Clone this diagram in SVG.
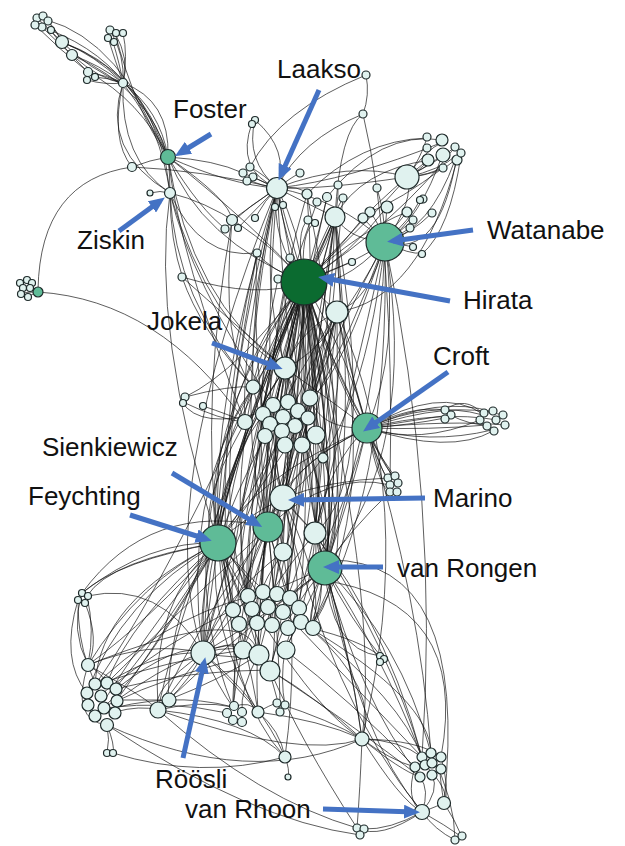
<svg xmlns="http://www.w3.org/2000/svg" width="625" height="846" viewBox="0 0 625 846">
<style>
.e path{fill:none;stroke:#111;stroke-width:0.85;stroke-opacity:0.8}
circle{fill:#e0f2ef;stroke:#1e2a2a;stroke-width:1.2}
.g circle{fill:#5fbb97}
.h circle{fill:#0b6b30}
.a{fill:none;stroke:#4472c4;stroke-width:5;marker-end:url(#ah)}
text{font-family:"Liberation Sans",Arial,sans-serif;font-size:26px;fill:#111}
</style>
<defs>
<marker id="ah" viewBox="0 0 16 14" markerWidth="16" markerHeight="14" refX="10" refY="7" orient="auto" markerUnits="userSpaceOnUse"><path d="M0,0 L16,7 L0,14 z" fill="#4472c4"/></marker>
</defs>
<rect width="625" height="846" fill="#fff"/>
<g id="connectors" class="e">
<path d="M37,18 Q50,30 62,42"/><path d="M43,17 Q55,28 62,42"/><path d="M47,20 Q58,32 62,42"/><path d="M42,27 Q55,40 72,55"/><path d="M35,25 Q60,50 88,72"/><path d="M50,30 Q70,55 88,72"/>
<path d="M62,42 Q95,55 123,83"/><path d="M62,42 Q90,70 123,83"/><path d="M72,55 Q100,65 123,83"/><path d="M72,55 Q100,80 123,83"/><path d="M88,72 Q105,75 123,83"/><path d="M95,77 Q110,78 123,83"/><path d="M87,80 Q105,85 123,83"/>
<path d="M110,30 Q125,55 123,83"/><path d="M115,33 Q130,60 123,83"/><path d="M123,33 Q128,55 123,83"/><path d="M113,42 Q120,65 123,83"/><path d="M108,38 Q115,60 123,83"/>
<path d="M62,42 Q140,70 168,157"/><path d="M72,55 Q150,90 168,157"/><path d="M88,72 Q140,100 168,157"/><path d="M123,83 Q160,110 168,157"/><path d="M123,83 Q150,120 168,157"/><path d="M123,83 Q170,100 168,157"/><path d="M123,83 Q110,140 132,167"/><path d="M123,83 Q100,150 170,193"/><path d="M123,83 Q120,160 170,193"/><path d="M47,20 Q120,40 168,157"/><path d="M115,33 Q135,110 168,157"/><path d="M35,25 Q150,60 170,193"/><path d="M62,42 Q160,80 170,193"/>
<path d="M132,167 Q150,160 168,157"/><path d="M150,193 Q160,190 170,193"/><path d="M168,157 Q170,175 170,193"/><path d="M168,157 Q215,160 243,173"/><path d="M168,157 Q230,185 277,188"/><path d="M168,157 Q230,200 232,220"/><path d="M168,157 Q200,210 227,230"/><path d="M168,157 Q260,230 304,282"/><path d="M170,193 Q240,210 304,282"/><path d="M170,193 Q200,260 257,253"/><path d="M170,193 Q170,240 183,279"/><path d="M170,193 Q175,300 253,387"/><path d="M168,157 Q190,300 285,368"/><path d="M170,193 Q210,330 285,368"/><path d="M168,157 Q180,260 245,422"/><path d="M170,193 Q150,330 218,543"/><path d="M170,193 Q190,280 273,405"/><path d="M168,157 Q200,240 304,282"/>
<path d="M132,167 Q40,180 38,290"/><path d="M38,292 Q160,300 245,422"/><path d="M132,167 Q200,170 277,188"/><path d="M38,292 Q30,286 27,281"/><path d="M38,292 Q28,292 22,293"/><path d="M38,292 Q30,295 28,297"/>
<path d="M243,173 Q260,180 277,188"/><path d="M250,167 Q265,175 277,188"/><path d="M253,177 Q265,183 277,188"/><path d="M248,180 Q262,186 277,188"/><path d="M255,120 Q245,160 277,188"/><path d="M252,123 Q235,170 277,188"/><path d="M255,120 Q290,150 277,188"/>
<path d="M277,188 Q300,185 307,194"/><path d="M277,188 Q295,175 300,173"/><path d="M277,188 Q300,200 335,217"/><path d="M277,188 Q320,190 407,177"/><path d="M277,188 Q350,160 407,177"/><path d="M277,188 Q340,200 385,242"/><path d="M232,220 Q260,200 277,188"/><path d="M225,228 Q250,205 277,188"/><path d="M238,228 Q255,210 277,188"/><path d="M255,218 Q265,200 277,188"/>
<path d="M277,188 Q285,240 304,282"/><path d="M277,188 Q270,240 304,282"/><path d="M277,188 Q300,230 304,282"/><path d="M277,188 Q260,280 285,368"/><path d="M277,188 Q250,300 253,387"/><path d="M277,188 Q240,350 245,422"/><path d="M277,188 Q300,300 310,398"/><path d="M277,188 Q210,400 218,543"/><path d="M277,188 Q320,350 367,428"/><path d="M277,188 Q260,400 283,498"/><path d="M277,188 Q150,500 203,653"/><path d="M277,188 Q230,420 268,527"/><path d="M277,188 Q290,420 325,568"/><path d="M277,188 Q200,480 248,597"/>
<path d="M407,177 Q420,160 427,138"/><path d="M407,177 Q425,150 443,142"/><path d="M407,177 Q430,165 445,153"/><path d="M407,177 Q420,170 430,160"/><path d="M407,177 Q440,160 455,147"/><path d="M407,177 Q440,170 457,155"/><path d="M407,177 Q440,175 455,160"/><path d="M407,177 Q430,175 443,167"/><path d="M407,177 Q415,200 385,242"/><path d="M407,177 Q380,210 304,282"/>
<path d="M443,153 Q420,220 385,242"/><path d="M455,160 Q430,230 385,242"/><path d="M457,155 Q440,260 385,242"/><path d="M443,142 Q350,180 277,188"/><path d="M430,160 Q360,170 335,217"/><path d="M455,147 Q400,220 304,282"/><path d="M457,160 Q420,300 337,312"/><path d="M427,138 Q360,140 307,194"/><path d="M461,155 Q450,230 422,254"/><path d="M443,168 Q400,200 370,212"/><path d="M428,160 Q390,190 363,218"/><path d="M442,140 Q380,130 327,197"/>
<path d="M363,114 Q370,95 366,75"/><path d="M363,114 Q340,130 335,217"/><path d="M363,114 Q395,250 390,485"/><path d="M363,114 Q300,140 277,188"/><path d="M366,75 Q280,110 250,167"/>
<path d="M385,242 Q360,260 304,282"/><path d="M385,242 Q340,290 304,282"/><path d="M385,242 Q350,240 335,217"/><path d="M387,207 Q385,225 385,242"/><path d="M370,212 Q380,225 385,242"/><path d="M363,218 Q375,230 385,242"/><path d="M407,212 Q395,225 385,242"/><path d="M413,220 Q400,232 385,242"/><path d="M420,200 Q410,220 385,242"/><path d="M410,228 Q400,235 385,242"/><path d="M385,242 Q405,245 413,247"/><path d="M385,242 Q410,255 422,253"/><path d="M377,188 Q385,215 385,242"/><path d="M432,213 Q410,235 385,242"/>
<path d="M385,242 Q370,300 337,312"/><path d="M385,242 Q400,350 367,428"/><path d="M385,242 Q380,400 325,568"/><path d="M385,242 Q420,450 325,568"/><path d="M385,242 Q360,450 283,498"/><path d="M385,242 Q350,400 315,533"/><path d="M385,242 Q300,400 268,527"/><path d="M385,242 Q330,350 285,368"/><path d="M385,242 Q390,500 310,628"/><path d="M385,242 Q440,500 422,757"/><path d="M385,242 Q320,420 218,543"/><path d="M385,242 Q340,380 310,398"/>
<path d="M304,282 Q290,270 290,258"/><path d="M304,282 Q270,270 257,253"/><path d="M304,282 Q285,280 278,279"/><path d="M304,282 Q320,295 337,312"/><path d="M304,282 Q320,250 335,217"/><path d="M304,282 Q330,220 343,198"/><path d="M304,282 Q300,230 315,223"/><path d="M304,282 Q330,260 363,218"/><path d="M304,282 Q350,255 387,207"/><path d="M304,282 Q345,240 370,212"/><path d="M304,282 Q330,270 352,262"/><path d="M304,282 Q295,230 308,220"/><path d="M304,282 Q320,230 327,197"/><path d="M304,282 Q340,230 338,185"/><path d="M304,282 Q360,230 407,212"/>
<path d="M304,282 Q290,330 285,368"/><path d="M304,282 Q270,320 285,368"/><path d="M304,282 Q310,340 310,398"/><path d="M304,282 Q260,340 253,387"/><path d="M304,282 Q240,400 245,422"/><path d="M304,282 Q280,380 273,405"/><path d="M304,282 Q330,350 295,423"/><path d="M304,282 Q330,360 367,428"/><path d="M304,282 Q350,360 367,428"/><path d="M304,282 Q330,400 323,458"/><path d="M304,282 Q300,380 288,402"/><path d="M304,282 Q320,380 316,435"/><path d="M304,282 Q250,380 263,414"/>
<path d="M304,282 Q260,420 283,498"/><path d="M304,282 Q300,420 283,498"/><path d="M304,282 Q240,420 268,527"/><path d="M304,282 Q280,430 268,527"/><path d="M304,282 Q200,420 218,543"/><path d="M304,282 Q230,450 218,543"/><path d="M304,282 Q350,450 315,533"/><path d="M304,282 Q320,430 315,533"/><path d="M304,282 Q360,430 325,568"/><path d="M304,282 Q340,480 325,568"/><path d="M304,282 Q260,450 283,552"/><path d="M304,282 Q215,380 218,543"/><path d="M304,282 Q250,500 268,527"/><path d="M304,282 Q300,480 325,568"/>
<path d="M304,282 Q220,500 248,597"/><path d="M304,282 Q330,500 287,598"/><path d="M304,282 Q200,520 232,610"/><path d="M304,282 Q350,520 310,628"/><path d="M304,282 Q280,500 270,625"/><path d="M304,282 Q190,550 203,653"/><path d="M304,282 Q220,560 243,650"/><path d="M304,282 Q340,550 285,650"/><path d="M304,282 Q290,560 258,655"/><path d="M304,282 Q370,560 310,628"/><path d="M304,282 Q180,600 158,710"/><path d="M304,282 Q170,580 95,685"/><path d="M304,282 Q250,600 258,712"/><path d="M304,282 Q380,600 362,739"/><path d="M304,282 Q230,650 233,707"/><path d="M304,282 Q260,520 263,592"/><path d="M304,282 Q310,520 299,608"/><path d="M304,282 Q240,540 252,609"/><path d="M304,282 Q300,560 270,671"/>
<path d="M335,217 Q330,350 310,398"/><path d="M335,217 Q280,350 253,387"/><path d="M335,217 Q350,380 323,458"/><path d="M335,217 Q300,450 268,527"/><path d="M335,217 Q230,450 218,543"/><path d="M335,217 Q360,450 325,568"/><path d="M335,217 Q300,500 270,625"/><path d="M335,217 Q380,480 315,533"/><path d="M335,217 Q260,500 248,597"/><path d="M335,217 Q310,320 285,368"/><path d="M335,217 Q340,350 367,428"/><path d="M335,217 Q310,430 283,498"/>
<path d="M337,312 Q320,340 310,398"/><path d="M337,312 Q300,330 285,368"/><path d="M337,312 Q350,370 367,428"/><path d="M337,312 Q310,420 283,498"/><path d="M337,312 Q340,450 325,568"/><path d="M337,312 Q250,450 218,543"/><path d="M337,312 Q290,470 268,527"/><path d="M337,312 Q380,500 310,628"/><path d="M337,312 Q270,550 258,655"/><path d="M337,312 Q220,560 203,653"/><path d="M337,312 Q420,500 362,739"/><path d="M337,312 Q320,480 315,533"/><path d="M337,312 Q290,540 287,598"/>
<path d="M307,194 Q320,350 283,498"/><path d="M307,194 Q260,350 268,527"/><path d="M307,194 Q350,400 325,568"/><path d="M232,220 Q220,350 253,387"/><path d="M232,220 Q200,400 218,543"/><path d="M257,253 Q230,400 218,543"/><path d="M257,253 Q250,400 283,498"/><path d="M290,258 Q330,400 325,568"/><path d="M290,258 Q260,450 203,653"/><path d="M343,198 Q330,320 315,533"/><path d="M327,197 Q290,350 283,552"/><path d="M317,202 Q250,380 248,597"/><path d="M278,279 Q250,400 268,527"/><path d="M290,258 Q290,380 310,398"/><path d="M257,253 Q210,450 232,610"/>
<path d="M285,368 Q260,450 268,527"/><path d="M285,368 Q230,450 218,543"/><path d="M285,368 Q320,450 325,568"/><path d="M285,368 Q300,430 283,498"/><path d="M285,368 Q210,480 203,653"/><path d="M285,368 Q260,550 258,655"/><path d="M285,368 Q330,500 310,628"/><path d="M285,368 Q160,550 258,712"/><path d="M285,368 Q290,500 287,598"/><path d="M285,368 Q240,520 248,597"/>
<path d="M253,387 Q200,460 218,543"/><path d="M253,387 Q230,500 248,597"/><path d="M253,387 Q280,500 283,552"/><path d="M253,387 Q180,500 203,653"/><path d="M253,387 Q170,550 233,707"/><path d="M310,398 Q340,480 325,568"/><path d="M310,398 Q280,450 283,498"/><path d="M310,398 Q300,500 287,598"/><path d="M245,422 Q190,520 218,543"/><path d="M315,435 Q350,520 325,568"/><path d="M265,433 Q230,520 232,610"/><path d="M273,405 Q240,480 268,527"/><path d="M298,411 Q330,500 315,533"/><path d="M283,431 Q250,500 218,543"/><path d="M302,445 Q300,520 283,552"/><path d="M263,414 Q200,500 203,653"/><path d="M288,402 Q340,520 325,568"/>
<path d="M367,428 Q330,460 315,533"/><path d="M367,428 Q350,500 325,568"/><path d="M367,428 Q300,460 283,498"/><path d="M367,428 Q280,470 268,527"/><path d="M367,428 Q250,480 218,543"/><path d="M367,428 Q320,430 310,398"/><path d="M367,428 Q330,400 285,368"/><path d="M367,428 Q420,600 431,753"/><path d="M367,428 Q330,560 287,598"/>
<path d="M367,428 Q410,405 445,410"/><path d="M367,428 Q415,420 450,415"/><path d="M367,428 Q410,425 445,418"/><path d="M367,428 Q430,400 483,415"/><path d="M367,428 Q440,395 493,412"/><path d="M367,428 Q450,400 503,415"/><path d="M367,428 Q440,410 497,420"/><path d="M367,428 Q450,420 505,425"/><path d="M367,428 Q430,430 487,425"/><path d="M367,428 Q430,445 492,430"/><path d="M367,428 Q420,445 480,420"/><path d="M367,428 Q450,455 493,431"/><path d="M367,428 Q440,385 483,414"/><path d="M445,410 Q465,395 483,414"/><path d="M450,415 Q470,425 487,425"/>
<path d="M367,428 Q380,470 388,478"/><path d="M367,428 Q385,470 395,477"/><path d="M367,428 Q395,485 398,483"/><path d="M367,428 Q380,490 390,492"/><path d="M367,428 Q390,495 397,492"/><path d="M388,478 Q330,480 283,498"/><path d="M390,492 Q350,530 325,568"/><path d="M395,477 Q340,400 304,282"/><path d="M390,485 Q330,470 268,527"/>
<path d="M185,397 Q230,385 253,387"/><path d="M183,402 Q220,420 245,422"/><path d="M203,406 Q230,415 245,422"/><path d="M185,397 Q240,370 304,282"/><path d="M182,402 Q200,430 263,412"/><path d="M182,277 Q230,320 285,368"/><path d="M182,277 Q260,300 304,282"/><path d="M182,277 Q200,330 253,387"/>
<path d="M218,543 Q240,560 248,597"/><path d="M218,543 Q230,580 232,610"/><path d="M218,543 Q210,600 203,653"/><path d="M218,543 Q170,600 168,700"/><path d="M218,543 Q150,600 158,710"/><path d="M218,543 Q140,580 88,665"/><path d="M218,543 Q120,560 82,593"/><path d="M218,543 Q100,600 95,685"/><path d="M218,543 Q130,620 107,683"/><path d="M218,543 Q150,650 115,688"/><path d="M218,543 Q160,640 117,700"/><path d="M218,543 Q140,680 103,707"/><path d="M218,543 Q110,560 87,596"/><path d="M218,543 Q120,600 87,693"/><path d="M218,543 Q140,640 95,716"/>
<path d="M218,543 Q240,650 233,707"/><path d="M218,543 Q250,660 258,712"/><path d="M218,543 Q270,660 280,712"/><path d="M218,543 Q230,700 285,757"/><path d="M218,543 Q300,700 362,739"/><path d="M218,543 Q320,650 422,757"/><path d="M218,543 Q250,620 259,655"/><path d="M218,543 Q270,600 272,625"/>
<path d="M268,527 Q240,580 248,597"/><path d="M268,527 Q260,570 262,593"/><path d="M268,527 Q280,570 287,598"/><path d="M268,527 Q240,600 203,653"/><path d="M268,527 Q250,640 258,655"/><path d="M268,527 Q300,640 310,628"/><path d="M268,527 Q200,620 158,710"/><path d="M268,527 Q280,650 280,712"/><path d="M268,527 Q240,650 233,707"/><path d="M268,527 Q170,620 107,683"/><path d="M268,527 Q280,640 270,671"/>
<path d="M325,568 Q300,590 287,598"/><path d="M325,568 Q310,600 310,628"/><path d="M325,568 Q300,620 285,650"/><path d="M325,568 Q280,620 270,670"/><path d="M325,568 Q260,620 203,653"/><path d="M325,568 Q350,650 362,739"/><path d="M325,568 Q380,650 422,757"/><path d="M325,568 Q400,640 431,753"/><path d="M325,568 Q360,700 420,777"/><path d="M325,568 Q360,740 422,812"/><path d="M325,568 Q330,650 380,656"/><path d="M325,568 Q350,620 383,659"/><path d="M320,580 Q470,600 441,757"/><path d="M330,560 Q470,560 444,803"/><path d="M325,568 Q250,600 232,610"/><path d="M325,568 Q230,640 158,710"/>
<path d="M315,533 Q330,600 310,628"/><path d="M315,533 Q300,600 285,650"/><path d="M315,533 Q350,650 362,739"/><path d="M315,533 Q390,650 422,757"/><path d="M283,552 Q270,600 270,625"/><path d="M283,552 Q250,600 243,650"/><path d="M283,552 Q300,650 285,757"/><path d="M315,533 Q260,600 243,650"/><path d="M283,552 Q220,600 203,653"/>
<path d="M283,498 Q260,560 248,597"/><path d="M283,498 Q300,560 297,608"/><path d="M283,498 Q220,600 203,653"/><path d="M283,498 Q330,600 310,628"/><path d="M283,498 Q380,600 422,757"/><path d="M283,498 Q330,700 422,812"/><path d="M283,498 Q240,520 218,543"/><path d="M283,498 Q300,520 315,533"/>
<path d="M82,593 Q70,630 88,665"/><path d="M78,600 Q78,640 88,665"/><path d="M87,596 Q95,630 88,665"/><path d="M85,603 Q100,640 88,665"/><path d="M82,593 Q150,540 218,543"/><path d="M87,596 Q160,580 203,653"/><path d="M78,600 Q60,660 87,693"/><path d="M82,593 Q150,500 268,527"/>
<path d="M88,665 Q92,675 95,685"/><path d="M88,665 Q100,672 107,683"/><path d="M88,665 Q150,640 203,653"/><path d="M88,665 Q150,620 218,543"/><path d="M88,665 Q150,700 158,710"/><path d="M88,665 Q70,720 107,725"/><path d="M88,665 Q250,600 258,655"/>
<path d="M107,725 Q110,740 107,753"/><path d="M107,725 Q115,745 113,753"/><path d="M115,712 Q140,705 158,710"/><path d="M117,700 Q140,700 168,700"/><path d="M107,683 Q160,650 203,653"/><path d="M95,685 Q170,660 243,650"/><path d="M103,707 Q180,670 258,655"/><path d="M115,689 Q190,670 270,670"/><path d="M95,713 Q170,690 233,707"/><path d="M100,695 Q170,640 232,610"/><path d="M87,693 Q160,620 248,597"/><path d="M117,700 Q200,640 243,650"/><path d="M116,689 Q180,640 203,653"/><path d="M104,708 Q170,700 227,713"/>
<path d="M158,710 Q180,680 203,653"/><path d="M168,700 Q190,680 203,653"/><path d="M158,710 Q200,700 233,707"/><path d="M168,700 Q220,680 258,655"/><path d="M158,710 Q250,720 285,757"/><path d="M158,710 Q300,760 362,739"/><path d="M107,725 Q250,790 362,739"/><path d="M158,710 Q260,800 357,828"/><path d="M107,725 Q250,820 360,835"/><path d="M113,753 Q200,780 285,757"/>
<path d="M203,653 Q230,640 243,650"/><path d="M203,653 Q240,660 258,655"/><path d="M203,653 Q150,690 158,710"/><path d="M203,653 Q220,690 233,707"/><path d="M203,653 Q240,690 258,712"/><path d="M203,653 Q260,700 285,757"/><path d="M203,653 Q230,620 248,597"/><path d="M203,653 Q250,630 270,670"/>
<path d="M233,707 Q250,700 258,712"/><path d="M258,712 Q270,705 277,703"/><path d="M258,712 Q280,730 285,757"/><path d="M285,757 Q290,770 288,777"/><path d="M258,712 Q320,720 362,739"/><path d="M277,703 Q330,720 362,739"/><path d="M270,670 Q320,700 362,739"/><path d="M270,670 Q300,740 357,828"/><path d="M258,655 Q240,690 242,712"/><path d="M285,650 Q280,680 285,705"/>
<path d="M310,628 Q380,690 362,739"/><path d="M310,628 Q360,640 380,656"/><path d="M310,628 Q400,700 422,757"/><path d="M310,628 Q430,700 431,753"/><path d="M285,650 Q350,700 415,767"/><path d="M270,670 Q360,730 420,777"/>
<path d="M362,739 Q400,740 422,757"/><path d="M362,739 Q390,760 415,767"/><path d="M362,739 Q400,770 420,777"/><path d="M362,739 Q400,800 422,812"/><path d="M362,739 Q420,740 441,757"/><path d="M362,739 Q360,790 357,828"/>
<path d="M422,812 Q440,805 444,803"/><path d="M422,812 Q430,790 420,777"/><path d="M422,812 Q440,790 432,775"/><path d="M422,812 Q435,830 455,840"/><path d="M422,812 Q445,825 462,837"/><path d="M444,803 Q455,820 462,837"/><path d="M444,803 Q440,780 440,769"/><path d="M422,812 Q390,830 363,829"/><path d="M422,812 Q380,840 357,828"/><path d="M441,757 Q450,790 444,803"/><path d="M431,753 Q455,800 455,840"/><path d="M415,767 Q405,800 422,812"/><path d="M425,765 Q450,790 444,803"/>
</g>
<g id="nodes">
<g id="n1"><circle cx="37" cy="18" r="4"/></g><g id="n2"><circle cx="43" cy="16" r="4"/></g><g id="n3"><circle cx="48" cy="21" r="4"/></g><g id="n4"><circle cx="42" cy="27" r="4"/></g><g id="n5"><circle cx="35" cy="25" r="4"/></g><g id="n6"><circle cx="51" cy="30" r="3.5"/></g><g id="n7"><circle cx="62" cy="42" r="6.5"/></g><g id="n8"><circle cx="72" cy="55" r="5.5"/></g><g id="n9"><circle cx="88" cy="72" r="4.5"/></g><g id="n10"><circle cx="95" cy="77" r="3.5"/></g><g id="n11"><circle cx="87" cy="80" r="3.5"/></g>
<g id="n12"><circle cx="110" cy="30" r="4"/></g><g id="n13"><circle cx="116" cy="33" r="3.5"/></g><g id="n14"><circle cx="123" cy="33" r="3.5"/></g><g id="n15"><circle cx="108" cy="38" r="3.5"/></g><g id="n16"><circle cx="114" cy="42" r="3.5"/></g><g id="n17"><circle cx="123" cy="83" r="4.5"/></g><g id="n18"><circle cx="132" cy="167" r="4.5"/></g><g id="n19"><circle cx="150" cy="193" r="3"/></g>
<g id="n20"><circle cx="255" cy="120" r="3.5"/></g><g id="n21"><circle cx="252" cy="124" r="3.5"/></g><g id="n22"><circle cx="243" cy="173" r="4"/></g><g id="n23"><circle cx="250" cy="167" r="4"/></g><g id="n24"><circle cx="253" cy="177" r="4"/></g><g id="n25"><circle cx="247" cy="181" r="4"/></g><g id="n26"><circle cx="300" cy="173" r="4"/></g><g id="n27"><circle cx="307" cy="194" r="5"/></g><g id="n28"><circle cx="232" cy="220" r="5.5"/></g><g id="n29"><circle cx="225" cy="229" r="4"/></g><g id="n30"><circle cx="238" cy="228" r="3.5"/></g><g id="n31"><circle cx="255" cy="218" r="3.5"/></g><g id="n32"><circle cx="275" cy="207" r="3.5"/></g><g id="n33"><circle cx="283" cy="205" r="3.5"/></g>
<g id="n34"><circle cx="317" cy="202" r="4"/></g><g id="n35"><circle cx="327" cy="197" r="4.5"/></g><g id="n36"><circle cx="338" cy="185" r="4"/></g><g id="n37"><circle cx="343" cy="198" r="4"/></g><g id="n38"><circle cx="308" cy="220" r="4"/></g><g id="n39"><circle cx="315" cy="223" r="3.5"/></g><g id="n40"><circle cx="335" cy="217" r="10"/></g><g id="n41"><circle cx="363" cy="114" r="4"/></g><g id="n42"><circle cx="366" cy="75" r="4"/></g>
<g id="n43"><circle cx="427" cy="137" r="4"/></g><g id="n44"><circle cx="442" cy="140" r="6"/></g><g id="n45"><circle cx="455" cy="147" r="4"/></g><g id="n46"><circle cx="443" cy="155" r="7"/></g><g id="n47"><circle cx="457" cy="160" r="5"/></g><g id="n48"><circle cx="461" cy="153" r="4"/></g><g id="n49"><circle cx="428" cy="160" r="6"/></g><g id="n50"><circle cx="427" cy="148" r="4"/></g><g id="n51"><circle cx="443" cy="168" r="4"/></g><g id="n52"><circle cx="407" cy="177" r="12"/></g><g id="n53"><circle cx="423" cy="199" r="4"/></g><g id="n54"><circle cx="432" cy="213" r="4"/></g>
<g id="n55"><circle cx="387" cy="207" r="6"/></g><g id="n56"><circle cx="370" cy="212" r="5"/></g><g id="n57"><circle cx="377" cy="188" r="4"/></g><g id="n58"><circle cx="363" cy="218" r="5"/></g><g id="n59"><circle cx="407" cy="212" r="5"/></g><g id="n60"><circle cx="413" cy="220" r="4"/></g><g id="n61"><circle cx="420" cy="200" r="3.5"/></g><g id="n62"><circle cx="410" cy="228" r="4"/></g><g id="n63"><circle cx="413" cy="247" r="3.5"/></g><g id="n64"><circle cx="422" cy="254" r="3.5"/></g><g id="n65"><circle cx="352" cy="262" r="3.5"/></g><g id="n66"><circle cx="257" cy="253" r="4"/></g><g id="n67"><circle cx="290" cy="258" r="4"/></g><g id="n68"><circle cx="278" cy="279" r="4"/></g><g id="n69"><circle cx="337" cy="312" r="11"/></g>
<g id="n70"><circle cx="20" cy="283" r="3.5"/></g><g id="n71"><circle cx="27" cy="280" r="3.5"/></g><g id="n72"><circle cx="32" cy="283" r="3.5"/></g><g id="n73"><circle cx="23" cy="288" r="3.5"/></g><g id="n74"><circle cx="30" cy="288" r="3.5"/></g><g id="n75"><circle cx="21" cy="294" r="3.5"/></g><g id="n76"><circle cx="28" cy="297" r="3.5"/></g><g id="n77" class="g"><circle cx="38" cy="292" r="5"/></g>
<g id="n78"><circle cx="182" cy="277" r="4"/></g><g id="n79"><circle cx="185" cy="397" r="4"/></g><g id="n80"><circle cx="183" cy="403" r="3.5"/></g><g id="n81"><circle cx="203" cy="406" r="3.5"/></g>
<g id="n82"><circle cx="253" cy="387" r="7"/></g><g id="n83"><circle cx="310" cy="398" r="8"/></g><g id="n84"><circle cx="273" cy="405" r="7.5"/></g><g id="n85"><circle cx="288" cy="402" r="7.5"/></g><g id="n86"><circle cx="245" cy="422" r="7.5"/></g><g id="n87"><circle cx="263" cy="414" r="7.5"/></g><g id="n88"><circle cx="298" cy="411" r="7.5"/></g><g id="n89"><circle cx="283" cy="417" r="7.5"/></g><g id="n90"><circle cx="308" cy="418" r="7"/></g><g id="n91"><circle cx="270" cy="424" r="7.5"/></g><g id="n92"><circle cx="295" cy="426" r="7.5"/></g><g id="n93"><circle cx="282" cy="431" r="7.5"/></g><g id="n94"><circle cx="265" cy="436" r="7.5"/></g><g id="n95"><circle cx="285" cy="445" r="8"/></g><g id="n96"><circle cx="302" cy="445" r="8"/></g><g id="n97"><circle cx="316" cy="435" r="9"/></g><g id="n98"><circle cx="323" cy="458" r="5"/></g>
<g id="n99"><circle cx="445" cy="410" r="4"/></g><g id="n100"><circle cx="451" cy="415" r="4"/></g><g id="n101"><circle cx="445" cy="419" r="4"/></g><g id="n102"><circle cx="480" cy="420" r="4"/></g><g id="n103"><circle cx="484" cy="413" r="4"/></g><g id="n104"><circle cx="493" cy="411" r="4"/></g><g id="n105"><circle cx="503" cy="415" r="4"/></g><g id="n106"><circle cx="496" cy="420" r="4"/></g><g id="n107"><circle cx="505" cy="425" r="4"/></g><g id="n108"><circle cx="487" cy="426" r="4"/></g><g id="n109"><circle cx="494" cy="431" r="4"/></g>
<g id="n110"><circle cx="388" cy="478" r="4"/></g><g id="n111"><circle cx="395" cy="476" r="4"/></g><g id="n112"><circle cx="390" cy="485" r="4"/></g><g id="n113"><circle cx="398" cy="483" r="4"/></g><g id="n114"><circle cx="390" cy="492" r="4"/></g><g id="n115"><circle cx="397" cy="492" r="4"/></g>
<g id="n116"><circle cx="315" cy="533" r="11"/></g><g id="n117"><circle cx="283" cy="552" r="9"/></g>
<g id="n118"><circle cx="248" cy="596" r="7.5"/></g><g id="n119"><circle cx="263" cy="592" r="7.5"/></g><g id="n120"><circle cx="277" cy="594" r="7.5"/></g><g id="n121"><circle cx="290" cy="598" r="7.5"/></g><g id="n122"><circle cx="233" cy="610" r="7.5"/></g><g id="n123"><circle cx="252" cy="609" r="7.5"/></g><g id="n124"><circle cx="268" cy="607" r="7.5"/></g><g id="n125"><circle cx="283" cy="612" r="7.5"/></g><g id="n126"><circle cx="299" cy="608" r="7.5"/></g><g id="n127"><circle cx="239" cy="624" r="7.5"/></g><g id="n128"><circle cx="257" cy="623" r="7.5"/></g><g id="n129"><circle cx="272" cy="625" r="7.5"/></g><g id="n130"><circle cx="288" cy="628" r="7.5"/></g><g id="n131"><circle cx="301" cy="622" r="7.5"/></g><g id="n132"><circle cx="313" cy="628" r="7.5"/></g>
<g id="n133"><circle cx="243" cy="650" r="9"/></g><g id="n134"><circle cx="259" cy="655" r="10"/></g><g id="n135"><circle cx="286" cy="650" r="9"/></g><g id="n136"><circle cx="270" cy="671" r="10"/></g>
<g id="n137"><circle cx="82" cy="593" r="3.5"/></g><g id="n138"><circle cx="78" cy="600" r="3.5"/></g><g id="n139"><circle cx="88" cy="596" r="3.5"/></g><g id="n140"><circle cx="85" cy="603" r="3.5"/></g><g id="n141"><circle cx="88" cy="665" r="6.5"/></g>
<g id="n142"><circle cx="95" cy="684" r="6"/></g><g id="n143"><circle cx="107" cy="683" r="6"/></g><g id="n144"><circle cx="116" cy="689" r="6"/></g><g id="n145"><circle cx="87" cy="693" r="6"/></g><g id="n146"><circle cx="101" cy="696" r="6"/></g><g id="n147"><circle cx="117" cy="701" r="6"/></g><g id="n148"><circle cx="88" cy="705" r="6"/></g><g id="n149"><circle cx="104" cy="708" r="6"/></g><g id="n150"><circle cx="95" cy="716" r="6"/></g><g id="n151"><circle cx="115" cy="713" r="6"/></g><g id="n152"><circle cx="107" cy="725" r="6.5"/></g><g id="n153"><circle cx="158" cy="710" r="8"/></g><g id="n154"><circle cx="169" cy="700" r="7"/></g><g id="n155"><circle cx="107" cy="753" r="3.5"/></g><g id="n156"><circle cx="113" cy="753" r="3.5"/></g>
<g id="n157"><circle cx="227" cy="713" r="4.5"/></g><g id="n158"><circle cx="234" cy="706" r="4.5"/></g><g id="n159"><circle cx="242" cy="712" r="4.5"/></g><g id="n160"><circle cx="233" cy="720" r="4.5"/></g><g id="n161"><circle cx="242" cy="722" r="4.5"/></g><g id="n162"><circle cx="258" cy="712" r="6"/></g><g id="n163"><circle cx="277" cy="703" r="4"/></g><g id="n164"><circle cx="285" cy="705" r="4"/></g><g id="n165"><circle cx="280" cy="712" r="4"/></g><g id="n166"><circle cx="285" cy="757" r="6"/></g><g id="n167"><circle cx="288" cy="777" r="3"/></g>
<g id="n168"><circle cx="380" cy="656" r="3.5"/></g><g id="n169"><circle cx="384" cy="659" r="3.5"/></g><g id="n170"><circle cx="380" cy="662" r="3.5"/></g><g id="n171"><circle cx="362" cy="739" r="7"/></g>
<g id="n172"><circle cx="422" cy="757" r="5"/></g><g id="n173"><circle cx="431" cy="753" r="5"/></g><g id="n174"><circle cx="441" cy="757" r="5"/></g><g id="n175"><circle cx="415" cy="767" r="5"/></g><g id="n176"><circle cx="425" cy="765" r="5"/></g><g id="n177"><circle cx="432" cy="763" r="5"/></g><g id="n178"><circle cx="441" cy="769" r="5"/></g><g id="n179"><circle cx="420" cy="777" r="5"/></g><g id="n180"><circle cx="432" cy="775" r="5"/></g><g id="n181"><circle cx="444" cy="803" r="6.5"/></g>
<g id="n182"><circle cx="357" cy="828" r="4"/></g><g id="n183"><circle cx="364" cy="829" r="4"/></g><g id="n184"><circle cx="360" cy="835" r="4"/></g><g id="n185"><circle cx="455" cy="840" r="4"/></g><g id="n186"><circle cx="462" cy="836" r="4"/></g>
<g id="foster" class="g"><circle cx="168" cy="157" r="7.5"/></g>
<g id="ziskin"><circle cx="170" cy="193" r="5.5"/></g>
<g id="laakso"><circle cx="277" cy="188" r="10.5"/></g>
<g id="watanabe" class="g"><circle cx="385" cy="242" r="19"/></g>
<g id="hirata" class="h"><circle cx="304" cy="282" r="23"/></g>
<g id="jokela"><circle cx="285" cy="368" r="11"/></g>
<g id="croft" class="g"><circle cx="367" cy="428" r="15"/></g>
<g id="marino"><circle cx="283" cy="498" r="13"/></g>
<g id="sienkiewicz" class="g"><circle cx="268" cy="527" r="15"/></g>
<g id="feychting" class="g"><circle cx="218" cy="543" r="18"/></g>
<g id="vanrongen" class="g"><circle cx="325" cy="568" r="17"/></g>
<g id="roosli"><circle cx="203" cy="653" r="12"/></g>
<g id="vanrhoon"><circle cx="422" cy="812" r="7.5"/></g>
</g>
<g id="arrows">
<path class="a" d="M211,134 L180,153"/>
<path class="a" d="M319,90 L281,175"/>
<path class="a" d="M119,231 L160,201"/>
<path class="a" d="M473,230 L393,241"/>
<path class="a" d="M450,301 L324,278"/>
<path class="a" d="M212,343 L277,367"/>
<path class="a" d="M448,372 L368,428"/>
<path class="a" d="M425,498 L294,500"/>
<path class="a" d="M172,473 L257,524"/>
<path class="a" d="M130,515 L206,539"/>
<path class="a" d="M383,567 L329,567"/>
<path class="a" d="M183,758 L204,663"/>
<path class="a" d="M323,809 L414,812"/>
</g>
<g id="labels">
<text x="173" y="118">Foster</text>
<text x="277" y="78">Laakso</text>
<text x="77" y="249">Ziskin</text>
<text x="487" y="239">Watanabe</text>
<text x="463" y="309">Hirata</text>
<text x="147" y="330">Jokela</text>
<text x="433" y="365">Croft</text>
<text x="42" y="456">Sienkiewicz</text>
<text x="28" y="505">Feychting</text>
<text x="433" y="507">Marino</text>
<text x="397" y="577">van Rongen</text>
<text x="155" y="788">Röösli</text>
<text x="185" y="818">van Rhoon</text>
</g>
</svg>
